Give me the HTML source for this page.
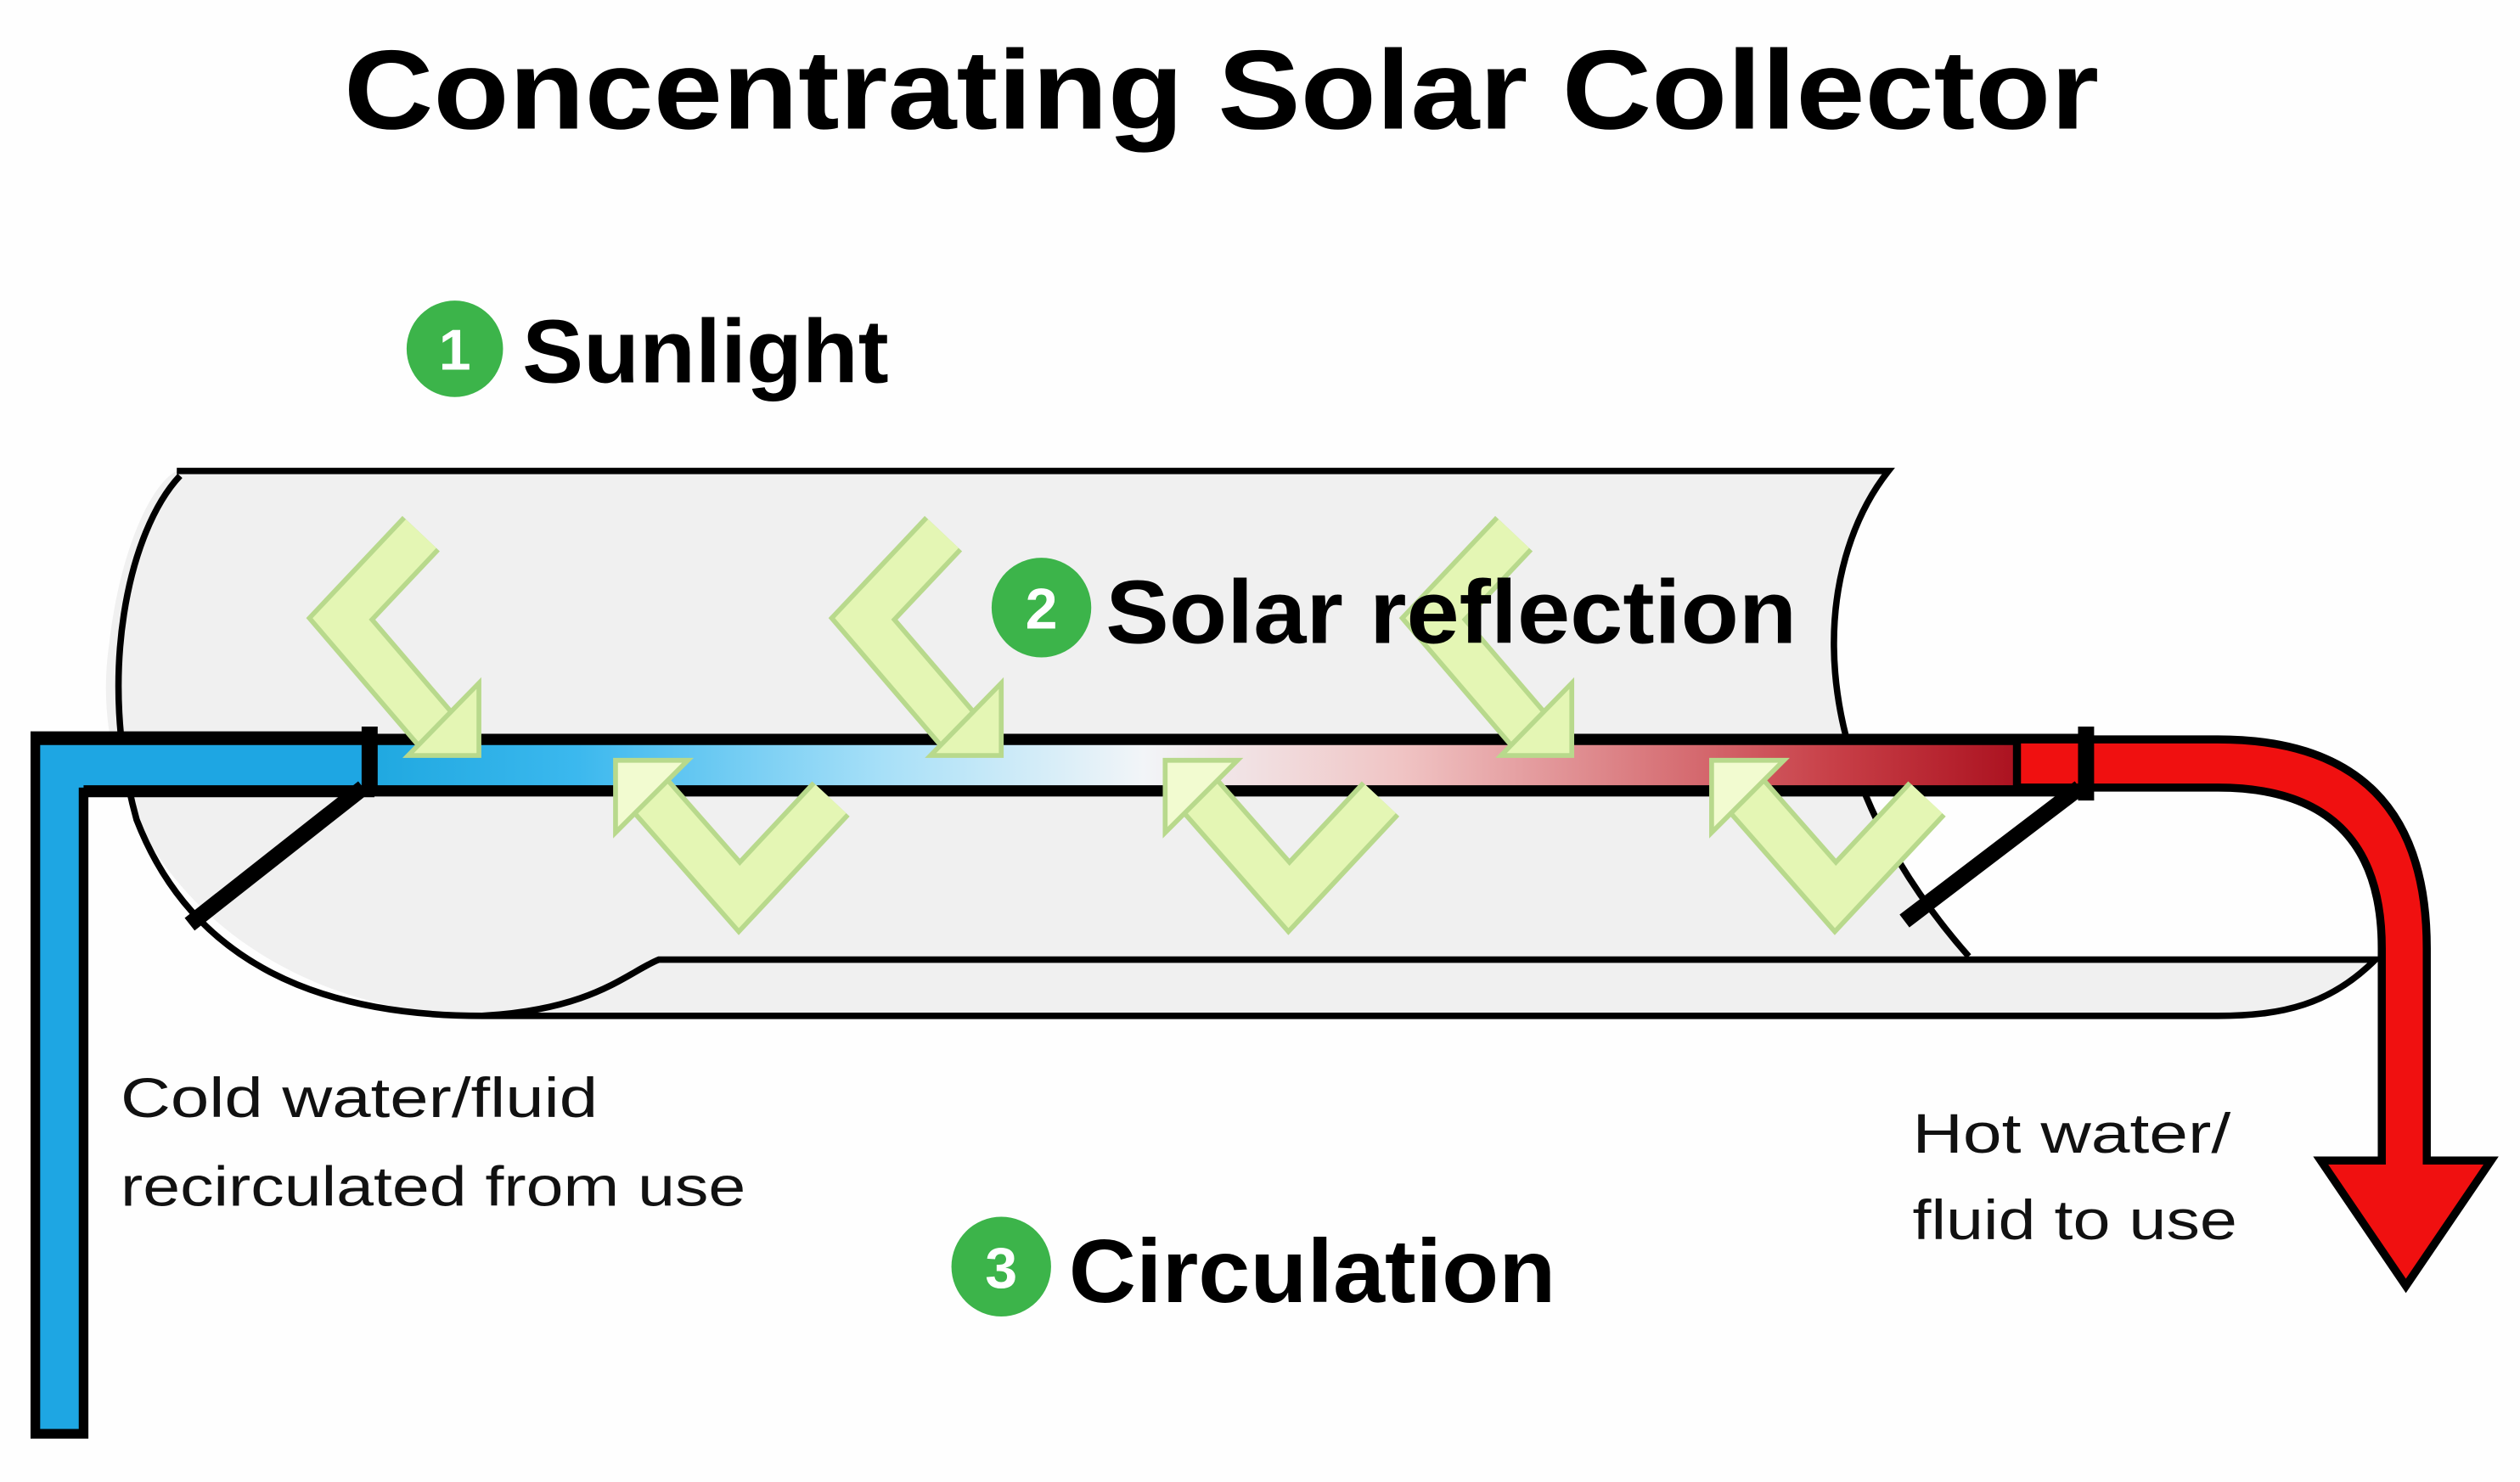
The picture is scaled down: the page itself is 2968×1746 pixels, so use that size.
<!DOCTYPE html>
<html><head><meta charset="utf-8"><style>
html,body{margin:0;padding:0;background:#fff;}
svg{display:block;}
text{font-family:"Liberation Sans",sans-serif;}
</style></head><body>
<svg width="2968" height="1746" viewBox="0 0 1568 922" preserveAspectRatio="none" xmlns="http://www.w3.org/2000/svg">
<defs>
<linearGradient id="pg" x1="0" x2="1" y1="0" y2="0">
<stop offset="0" stop-color="#1fa8e0"/>
<stop offset="0.12" stop-color="#3bb8ee"/>
<stop offset="0.3" stop-color="#a8e0f8"/>
<stop offset="0.45" stop-color="#f2f5f8"/>
<stop offset="0.6" stop-color="#f0c4c4"/>
<stop offset="0.85" stop-color="#c84048"/>
<stop offset="1" stop-color="#a00010"/>
</linearGradient>
</defs>
<rect width="1568" height="922" fill="#fefefe"/>
<text x="760" y="80" font-size="70" font-weight="bold" text-anchor="middle" textLength="1092" lengthAdjust="spacingAndGlyphs">Concentrating Solar Collector</text>
<circle cx="283" cy="217" r="30" fill="#3cb44a"/>
<text x="283" y="230" font-size="36" font-weight="bold" fill="#fff" text-anchor="middle">1</text>
<text x="325" y="238" font-size="56" font-weight="bold" textLength="228" lengthAdjust="spacingAndGlyphs">Sunlight</text>

<!-- trough -->
<path d="M110,293 L1175,293 C1130,350 1115,470 1225,595 L1478,597 C1450,625 1420,632 1380,632 L300,632 C150,630 50,520 68,400 C75,340 95,300 110,293 Z" fill="#f0f0f0"/>
<path d="M110,293 L1175,293 C1130,350 1115,470 1225,595" fill="none" stroke="#000" stroke-width="4"/>
<path d="M112,296 C80,330 60,420 85,510 C120,600 200,632 300,632 L1380,632 C1420,632 1450,625 1478,597 L410,597 C390,605 370,628 300,632" fill="none" stroke="#000" stroke-width="4"/>
<line x1="1225" y1="597" x2="1478" y2="597" stroke="#000" stroke-width="3"/>

<!-- left blue vertical pipe -->
<path d="M22,458 L230,458 L230,493 L52,493 L52,892 L22,892 Z" fill="#1ea6e3" stroke="#000" stroke-width="6"/>
<!-- main pipe -->
<rect x="230" y="460" width="1070" height="32" fill="url(#pg)"/>
<line x1="22" y1="460" x2="1300" y2="460" stroke="#000" stroke-width="7"/>
<line x1="52" y1="492" x2="1300" y2="492" stroke="#000" stroke-width="7"/>
<!-- red pipe -->
<path d="M1255,460 L1380,460 Q1510,460 1510,590 L1510,722 L1550,722 L1497,800 L1444,722 L1482,722 L1482,590 Q1482,490 1380,490 L1255,490 Z" fill="#f01010" stroke="#000" stroke-width="5"/>
<!-- brackets -->
<line x1="230" y1="452" x2="230" y2="495" stroke="#000" stroke-width="10"/>
<line x1="226" y1="490" x2="118" y2="575" stroke="#000" stroke-width="10"/>
<line x1="1298" y1="452" x2="1298" y2="498" stroke="#000" stroke-width="10"/>
<line x1="1294" y1="490" x2="1185" y2="573" stroke="#000" stroke-width="10"/>

<!-- down arrows -->
<g id="da">
<path d="M262,332 L212,385 L272,455" fill="none" stroke="#b8d98c" stroke-width="32" stroke-linejoin="miter"/>
<path d="M262,332 L212,385 L272,455" fill="none" stroke="#e4f6b4" stroke-width="26" stroke-linejoin="miter"/>
<polygon points="298,425 298,470 254,470" fill="#e4f6b4" stroke="#b8d98c" stroke-width="3"/>
</g>
<use href="#da" x="325"/>
<use href="#da" x="680"/>
<!-- up arrows -->
<g id="ua">
<path d="M517,497 L460,558 L402,492" fill="none" stroke="#b8d98c" stroke-width="32"/>
<path d="M517,497 L460,558 L402,492" fill="none" stroke="#e4f6b4" stroke-width="26"/>
<polygon points="383,473 428,473 383,518" fill="#f2fbd0" stroke="#b8d98c" stroke-width="3"/>
</g>
<use href="#ua" x="342"/>
<use href="#ua" x="682"/>

<circle cx="648" cy="378" r="31" fill="#3cb44a"/>
<text x="648" y="391" font-size="36" font-weight="bold" fill="#fff" text-anchor="middle">2</text>
<text x="688" y="400" font-size="56" font-weight="bold" textLength="430" lengthAdjust="spacingAndGlyphs">Solar reflection</text>

<text x="75" y="695" font-size="35" textLength="297" lengthAdjust="spacingAndGlyphs" fill="#111">Cold water/fluid</text>
<text x="75" y="750" font-size="35" textLength="389" lengthAdjust="spacingAndGlyphs" fill="#111">recirculated from use</text>
<text x="1190" y="717" font-size="35" textLength="198" lengthAdjust="spacingAndGlyphs" fill="#111">Hot water/</text>
<text x="1190" y="771" font-size="35" textLength="202" lengthAdjust="spacingAndGlyphs" fill="#111">fluid to use</text>

<circle cx="623" cy="788" r="31" fill="#3cb44a"/>
<text x="623" y="801" font-size="36" font-weight="bold" fill="#fff" text-anchor="middle">3</text>
<text x="665" y="810" font-size="56" font-weight="bold" textLength="303" lengthAdjust="spacingAndGlyphs">Circulation</text>
</svg>
</body></html>
